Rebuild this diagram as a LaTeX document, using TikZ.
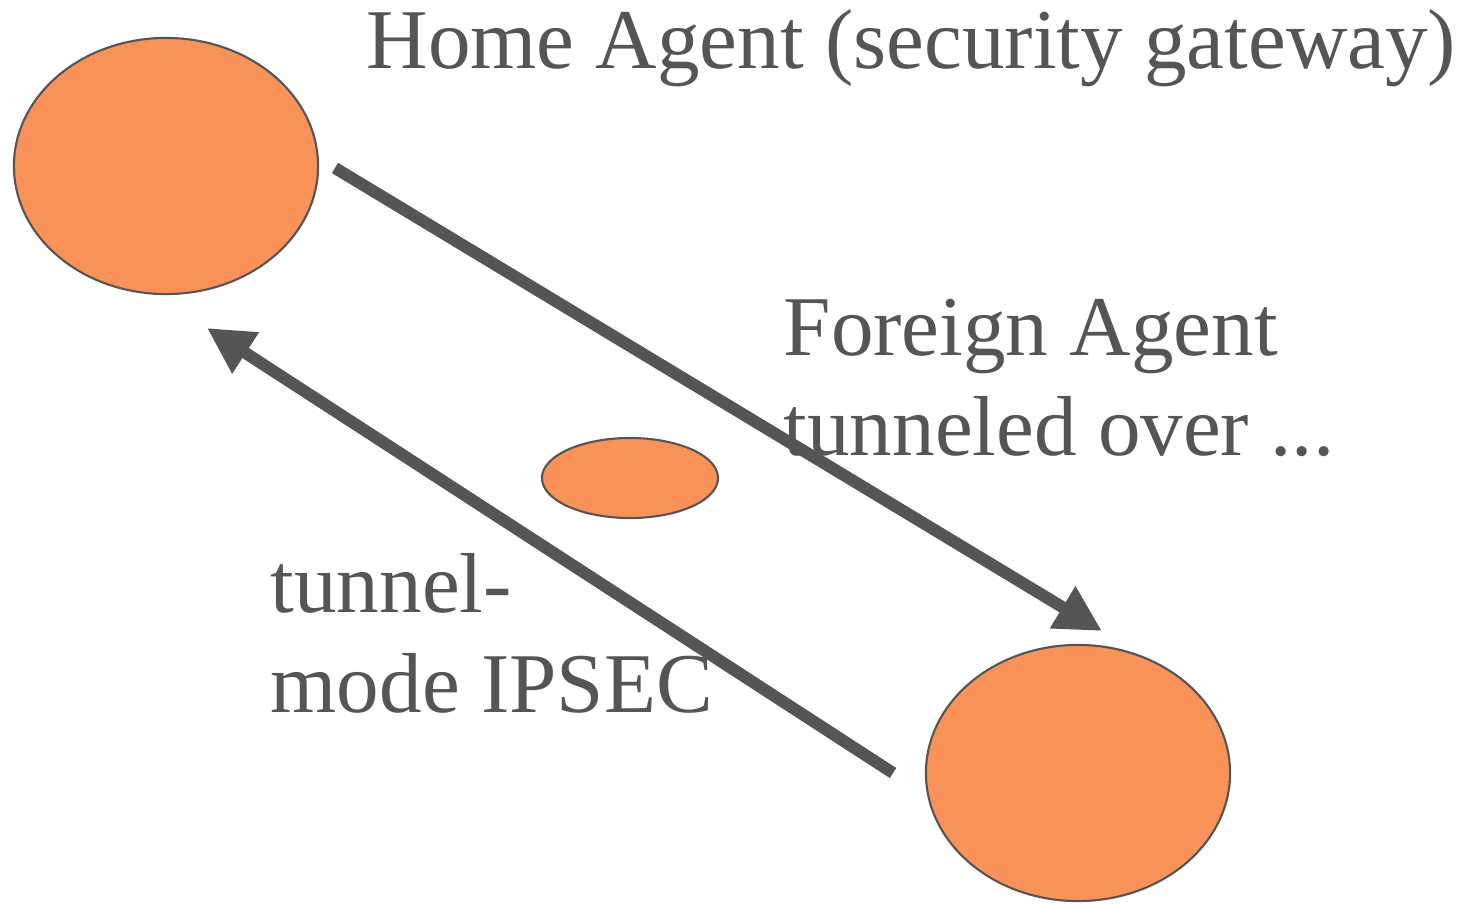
\documentclass[tikz,border=0pt]{standalone}
\usepackage{fontspec}
\setmainfont{Liberation Serif}
\usetikzlibrary{shapes.geometric,arrows.meta}
\definecolor{ink}{HTML}{555555}
\definecolor{agentfill}{HTML}{F89258}
\tikzset{
  agent/.style={ellipse, draw=ink, line width=0.6pt, fill=agentfill, inner sep=0pt},
  tunnelarrow/.style={draw=ink, line width=3.4pt, -{Triangle[length=0.46cm,width=0.46cm]}},
  label/.style={text=ink, font=\fontsize{24.2}{29}\selectfont, anchor=base west, inner sep=0pt, align=left}
}
\begin{document}
\begin{tikzpicture}[x=0.01cm, y=-0.01cm]
  \useasboundingbox (0,0) rectangle (1467,903);
  % hosts
  \node[agent, minimum width=3.04cm, minimum height=2.56cm] (home) at (166,166) {};
  \node[agent, minimum width=1.76cm, minimum height=0.80cm] (mid) at (630,478) {};
  \node[agent, minimum width=3.04cm, minimum height=2.56cm] (foreign) at (1078,773) {};
  % tunnel directions
  \coordinate (outStart) at (335,168);
  \coordinate (outEnd) at (1102,631);
  \coordinate (backStart) at (893,773);
  \coordinate (backEnd) at (207,328);
  \draw[tunnelarrow] (outStart) -- (outEnd);
  \draw[tunnelarrow] (backStart) -- (backEnd);
  % labels
  \node[label] (hl) at (366,68) {Home Agent (security gateway)};
  \node[label] (fl1) at (783,355) {Foreign Agent};
  \node[label] (fl2) at (783,455) {tunneled over ...};
  \node[label] (tl1) at (270,612) {tunnel-};
  \node[label] (tl2) at (270,712) {mode IPSEC};
\end{tikzpicture}
\end{document}
